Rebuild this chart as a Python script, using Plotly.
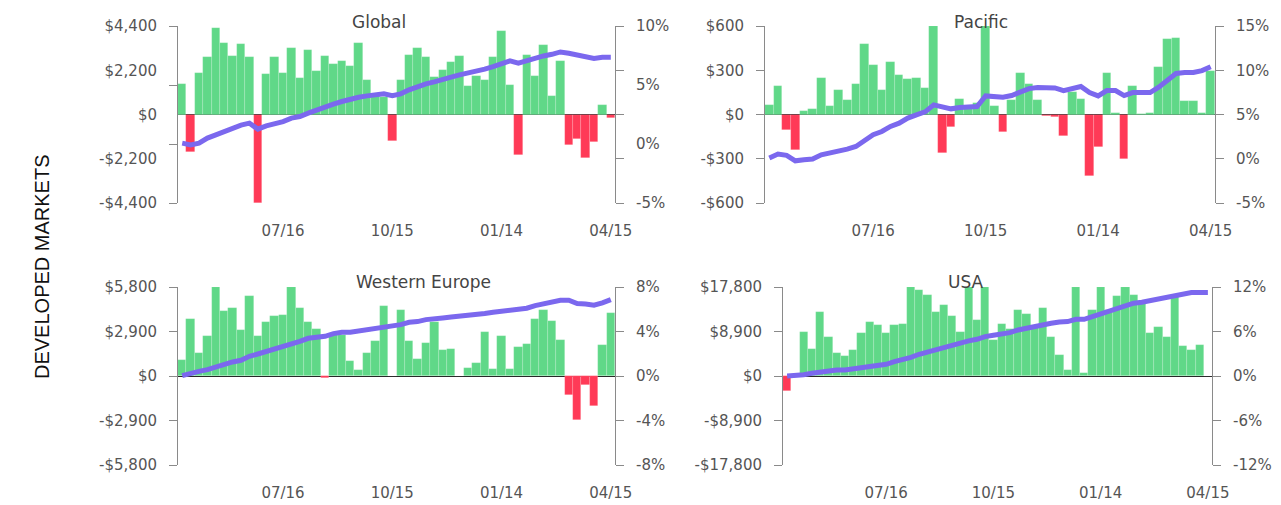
import pandas as pd
import plotly.graph_objects as go

# ---------------- data ----------------
weeks = pd.date_range("2014-04-23", periods=52, freq="7D")
tick_dates = ["2014-07-16", "2014-10-15", "2015-01-14", "2015-04-15"]
tick_labels = ["07/16", "10/15", "01/14", "04/15"]

global_flow = [1533, -1862, 2060, 2851, 4285, 3576, 2917, 3510, 2851, -4400,
               1994, 2851, 2060, 3296, 1796, 3230, 2142, 2917, 2521, 2653,
               2390, 3576, 1730, 900, 850, -1318, 1740, 2966, 3296, 2851,
               1862, 2192, 2587, 2917, 1400, 1928, 1730, 2851, 4153, 1467,
               -1994, 2966, 1928, 3444, 939, 2653, -1516, -1236, -2159, -1351,
               478, -181]
global_ret = [0.07, -0.07, 0.07, 0.5, 0.78, 1.06, 1.4, 1.6, 1.77, 1.26,
              1.54, 1.71, 1.9, 2.19, 2.33, 2.61, 2.89, 3.12, 3.37, 3.6,
              3.82, 3.96, 4.08, 4.16, 4.25, 4.1, 4.25, 4.59, 4.87, 5.1,
              5.27, 5.43, 5.66, 5.86, 6.0, 6.2, 6.34, 6.56, 6.85, 7.04,
              6.85, 7.07, 7.27, 7.46, 7.6, 7.8, 7.69, 7.55, 7.32, 7.24,
              7.35, 7.35]

pacific_flow = [65, 190, -104, -239, 27, 38, 246, 59, 167, 95,
                208, 478, 334, 167, 354, 271, 239, 246, 183, 600,
                -262, -85, 102, 50, 75, 600, 60, -120, 101, 281,
                209, 95, -12, -19, -148, 150, 104, -420, -217, 280,
                9, -300, 190, 5, 9, 325, 512, 521, 92, 92,
                9, 298]
pacific_ret = [0.08, 0.53, 0.38, -0.23, -0.11, -0.04, 0.45, 0.64, 0.9, 1.09,
               1.39, 2.07, 2.71, 3.08, 3.65, 4.02, 4.59, 4.96, 5.3, 6.09,
               5.83, 5.64, 5.79, 5.79, 5.9, 7.1, 7.1, 6.96, 7.14, 7.6,
               7.93, 8.05, 8.05, 8.0, 7.7, 8.0, 8.16, 7.48, 7.1, 7.7,
               7.7, 7.14, 7.48, 7.48, 7.48, 8.08, 8.8, 9.63, 9.74, 9.74,
               9.96, 10.4]

europe_flow = [1064, 3736, 1499, 2628, 5800, 4257, 4431, 2976, 5235, 2628,
               3497, 3931, 3997, 5800, 4431, 3497, 3063, -150, 2700, 2700,
               1010, 405, 1510, 2300, 4540, 0, 4270, 2310, 1100, 2180,
               3490, 1680, 1750, 0, 510, 880, 2880, 455, 2620, 455,
               1920, 2100, 3730, 4279, 3562, 2367, -1260, -2845, -565, -1933,
               1998, 4105]
europe_ret = [0.03, 0.27, 0.42, 0.57, 0.81, 1.02, 1.26, 1.41, 1.77, 1.98,
              2.19, 2.43, 2.67, 2.91, 3.12, 3.39, 3.51, 3.57, 3.81, 3.93,
              3.93, 4.05, 4.11, 4.23, 4.41, 4.47, 4.62, 4.83, 4.89, 5.07,
              5.19, 5.22, 5.31, 5.37, 5.46, 5.52, 5.61, 5.73, 5.82, 5.82,
              5.97, 6.09, 6.33, 6.48, 6.72, 6.81, 6.81, 6.51, 6.48, 6.36,
              6.57, 6.87]

usa_flow = [-2944, 0, 8898, 5419, 12845, 7827, 4549, 4081, 5218, 8563,
            10771, 10236, 8563, 10169, 10436, 17800, 17120, 16257, 12845, 14190,
            12042, 8831, 17800, 11239, 17800, 7200, 10436, 9366, 13112, 12383,
            9900, 13650, 7890, 4150, 1204, 17800, 669, 13112, 17800, 13112,
            16056, 17800, 16257, 14590, 8690, 9895, 7887, 15916, 6021, 5218,
            6222, 0]
usa_ret = [0.0, 0.04, 0.18, 0.36, 0.54, 0.68, 0.81, 0.81, 0.99, 1.13,
           1.26, 1.4, 1.58, 1.94, 2.16, 2.52, 2.93, 3.24, 3.6, 3.83,
           4.14, 4.41, 4.73, 4.95, 5.31, 5.49, 5.67, 5.85, 6.21, 6.44,
           6.8, 6.98, 7.11, 7.29, 7.34, 7.65, 7.65, 8.01, 8.37, 8.69,
           9.0, 9.5, 9.81, 9.95, 10.17, 10.35, 10.58, 10.94, 11.07, 11.25,
           11.25, 11.25]

titles = ["Global", "Pacific", "Western Europe", "USA"]
flow_ticks = [[-4400, -2200, 0, 2200, 4400],
              [-600, -300, 0, 300, 600],
              [-5800, -2900, 0, 2900, 5800],
              [-17800, -8900, 0, 8900, 17800]]
ret_ticks = [[-5, 0, 5, 10],
             [-5, 0, 5, 10, 15],
             [-8, -4, 0, 4, 8],
             [-12, -6, 0, 6, 12]]
row_label = "DEVELOPED MARKETS"

# ---------------- styling ----------------
PAGE_W, PAGE_H = 1281, 505
OFF = 8  # default page body margin
W, H = PAGE_W - OFF, PAGE_H - OFF
GREEN = "#60D888"
RED = "#FF3A57"
PURPLE = "#7B68EE"
AXIS = "#8a8a8a"
TXT = "#555555"
FONT = "DejaVu Sans"

# panel boxes in page pixels: (left, right, top, bottom)
boxes = [(178, 615, 26, 203), (765, 1215, 26, 203),
         (178, 615, 287, 465), (783, 1212, 287, 465)]
title_pos = [(379, 22), (981, 22), (423, 282), (966, 282)]


def px(x):
    return (x - OFF) / W


def py(y):
    return 1 - (y - OFF) / H


flows = [global_flow, pacific_flow, europe_flow, usa_flow]
rets = [global_ret, pacific_ret, europe_ret, usa_ret]


def money(v):
    return ("-$" if v < 0 else "$") + f"{abs(v):,}"


def pct(v):
    return f"{v}%"


half_week = pd.Timedelta(days=3.5)
xrange = [weeks[0] - half_week, weeks[-1] + half_week]

fig = go.Figure()
layout = dict(width=W, height=H, autosize=False,
              margin=dict(l=0, r=0, t=0, b=0, autoexpand=False),
              plot_bgcolor="white", paper_bgcolor="white",
              showlegend=False, bargap=0,
              font=dict(family=FONT, size=15, color=TXT),
              annotations=[])

STANDOFF = 9
for i in range(4):
    l, r, t, b = boxes[i]
    xn = "" if i == 0 else str(i + 1)
    yl = str(2 * i + 1) if i else ""
    yr = str(2 * i + 2)
    xa = "x" + xn
    ya_l = "y" + yl
    ya_r = "y" + yr
    colors = [GREEN if v >= 0 else RED for v in flows[i]]
    fig.add_trace(go.Bar(x=weeks, y=flows[i], marker_color=colors,
                         marker_line_width=0.6,
                         marker_line_color="rgba(255,255,255,0.25)",
                         xaxis=xa, yaxis=ya_l, hoverinfo="skip"))
    fig.add_trace(go.Scatter(x=weeks, y=rets[i], mode="lines",
                             line=dict(color=PURPLE, width=5),
                             xaxis=xa, yaxis=ya_r, hoverinfo="skip"))
    ft = flow_ticks[i]
    rt = ret_ticks[i]
    layout["xaxis" + xn] = dict(
        domain=[px(l), px(r)], anchor=ya_l, range=xrange, type="date",
        automargin=False,
        tickvals=tick_dates, ticktext=tick_labels, showgrid=False,
        zeroline=False, showline=False, ticks="outside", ticklen=14,
        tickcolor="rgba(0,0,0,0)", tickfont=dict(size=15, color=TXT, family=FONT))
    special = (i == 0)
    layout["yaxis" + yl] = dict(
        domain=[py(b), py(t)], anchor=xa, range=[ft[0], ft[-1]],
        automargin=False,
        tickvals=ft, ticktext=[money(v) for v in ft], showgrid=False,
        zeroline=True, zerolinecolor="#222222", zerolinewidth=1,
        showline=True, linecolor=AXIS, linewidth=1,
        ticks="outside", ticklen=8,
        tickcolor="rgba(0,0,0,0)" if special else AXIS,
        ticklabelstandoff=STANDOFF,
        tickfont=dict(size=15, color=TXT, family=FONT))
    layout["yaxis" + yr] = dict(
        overlaying=ya_l, anchor=xa, side="right", range=[rt[0], rt[-1]],
        automargin=False,
        tickvals=rt, ticktext=[pct(v) for v in rt], showgrid=False,
        zeroline=False, showline=True, linecolor=AXIS, linewidth=1,
        ticks="outside", ticklen=8,
        tickcolor="rgba(0,0,0,0)" if special else AXIS,
        ticklabelstandoff=STANDOFF,
        tickfont=dict(size=15, color=TXT, family=FONT))
    tx, ty = title_pos[i]
    layout["annotations"].append(dict(
        text=titles[i], x=px(tx), y=py(ty), xref="paper", yref="paper",
        xanchor="center", yanchor="middle", showarrow=False,
        font=dict(size=17, color="#444444", family=FONT)))

# Global panel: tick marks on the left follow the % scale, on the right the $ scale
g_ft = flow_ticks[0]
g_rt = ret_ticks[0]
fig.add_trace(go.Scatter(x=[weeks[0]], y=[None], xaxis="x", yaxis="y9",
                         hoverinfo="skip", showlegend=False))
fig.add_trace(go.Scatter(x=[weeks[0]], y=[None], xaxis="x", yaxis="y10",
                         hoverinfo="skip", showlegend=False))
layout["yaxis9"] = dict(overlaying="y", anchor="x", side="left",
                        automargin=False,
                        range=[g_rt[0], g_rt[-1]], tickvals=g_rt,
                        showticklabels=False, showgrid=False, zeroline=False,
                        showline=False, ticks="outside", ticklen=8,
                        tickcolor=AXIS)
layout["yaxis10"] = dict(overlaying="y", anchor="x", side="right",
                         automargin=False,
                         range=[g_ft[0], g_ft[-1]], tickvals=g_ft,
                         showticklabels=False, showgrid=False, zeroline=False,
                         showline=False, ticks="outside", ticklen=8,
                         tickcolor=AXIS)

layout["annotations"].append(dict(
    text=row_label, x=px(42), y=py(267), xref="paper", yref="paper",
    xanchor="center", yanchor="middle", textangle=-90, showarrow=False,
    font=dict(size=20, color="#111111", family="Liberation Sans")))

fig.update_layout(**layout)
fig.write_html("out.html")
